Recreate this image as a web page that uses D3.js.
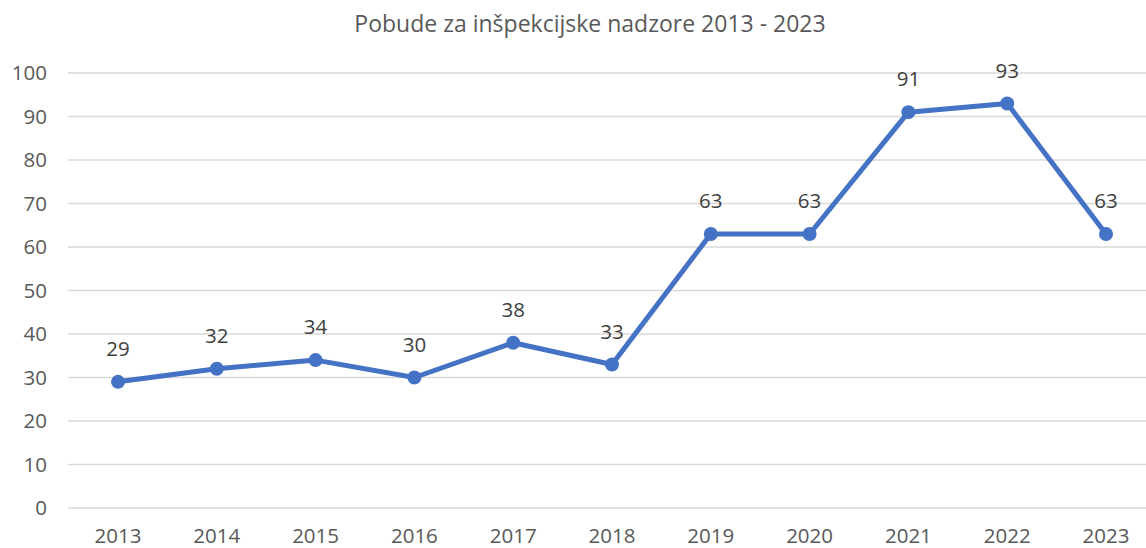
<!DOCTYPE html>
<html>
<head>
<meta charset="utf-8">
<script src="https://cdn.jsdelivr.net/npm/d3@7"></script>
<style>
  body { margin: 0; background: #fff; }
  svg text { font-family: "Open Sans", Lato, sans-serif; fill: #595959; }
</style>
</head>
<body>
<div id="chart"></div>
<script>
const years = ['2013', '2014', '2015', '2016', '2017', '2018', '2019', '2020', '2021', '2022', '2023'];
const values = [29, 32, 34, 30, 38, 33, 63, 63, 91, 93, 63];
const yTicks = [0, 10, 20, 30, 40, 50, 60, 70, 80, 90, 100];
const title = 'Pobude za inšpekcijske nadzore 2013 - 2023';

const wSvg = 1146;
const hSvg = 548;

const svg = d3.select('#chart')
    .append('svg')
    .attr('width', wSvg)
    .attr('height', hSvg);

const x = d3.scaleBand()
    .domain(years)
    .range([68.6, 1155.4]);

const y = d3.scaleLinear()
    .domain([0, 100])
    .range([508, 73]);

// gridlines
svg.append('g')
    .selectAll('line')
    .data(yTicks)
    .enter()
    .append('line')
    .attr('x1', 68)
    .attr('x2', wSvg)
    .attr('y1', d => y(d))
    .attr('y2', d => y(d))
    .style('stroke', '#d9d9d9')
    .style('stroke-width', 1.5);

// y labels
svg.append('g')
    .selectAll('text')
    .data(yTicks)
    .enter()
    .append('text')
    .attr('x', 47)
    .attr('y', d => y(d))
    .attr('dy', '0.35em')
    .attr('text-anchor', 'end')
    .style('font-size', '20.5px')
    .text(d => d);

// x labels
svg.append('g')
    .selectAll('text')
    .data(years)
    .enter()
    .append('text')
    .attr('x', d => x(d) + x.bandwidth() / 2)
    .attr('y', 543)
    .attr('text-anchor', 'middle')
    .style('font-size', '20.5px')
    .text(d => d);

const line = d3.line()
    .x((d, i) => x(years[i]) + x.bandwidth() / 2)
    .y(d => y(d));

svg.append('path')
    .datum(values)
    .attr('d', line)
    .style('fill', 'none')
    .style('stroke', '#4472c4')
    .style('stroke-width', 5)
    .style('stroke-linejoin', 'round');

svg.append('g')
    .selectAll('circle')
    .data(values)
    .enter()
    .append('circle')
    .attr('cx', (d, i) => x(years[i]) + x.bandwidth() / 2)
    .attr('cy', d => y(d))
    .attr('r', 7)
    .style('fill', '#4472c4');

// data labels
svg.append('g')
    .selectAll('text')
    .data(values)
    .enter()
    .append('text')
    .attr('x', (d, i) => x(years[i]) + x.bandwidth() / 2)
    .attr('y', d => y(d) - 33)
    .attr('dy', '0.35em')
    .attr('text-anchor', 'middle')
    .style('font-size', '20.5px')
    .style('fill', '#404040')
    .text(d => d);

svg.append('text')
    .attr('x', 590)
    .attr('y', 24)
    .attr('dy', '0.35em')
    .attr('text-anchor', 'middle')
    .style('font-size', '23px')
    .text(title);
</script>
</body>
</html>
